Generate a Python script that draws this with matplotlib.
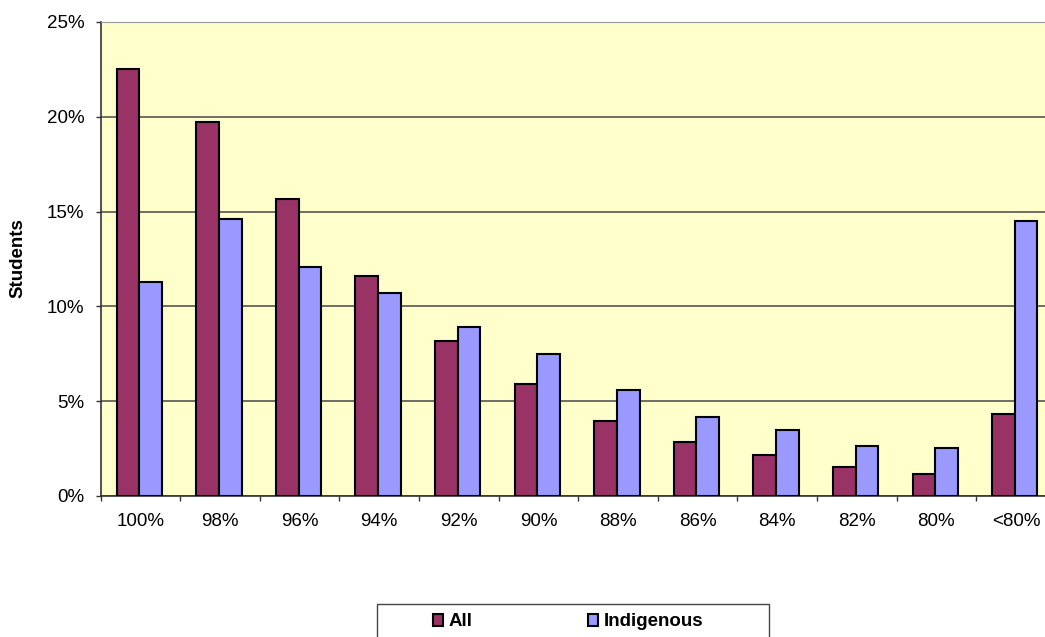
import numpy as np
import matplotlib
matplotlib.use("Agg")
import matplotlib.pyplot as plt
from matplotlib.patches import Patch, Rectangle
from matplotlib.ticker import FuncFormatter, FixedLocator

plt.rcParams["font.family"] = ["Liberation Sans", "DejaVu Sans"]

categories = ["100%", "98%", "96%", "94%", "92%", "90%", "88%", "86%", "84%", "82%", "80%", "<80%"]
all_students = [22.5, 19.75, 15.66, 11.58, 8.16, 5.89, 3.97, 2.83, 2.18, 1.51, 1.14, 4.34]
indigenous = [11.3, 14.6, 12.06, 10.72, 8.93, 7.49, 5.59, 4.17, 3.48, 2.65, 2.55, 14.52]

W, H = 1045, 637
fig = plt.figure(figsize=(W / 100, H / 100), dpi=100)
# axes run a little past the right edge of the figure
ax = fig.add_axes([100.7 / W, 1 - 496 / H, 955 / W, 474 / H])
ax.set_facecolor("#FFFFCC")

x = np.arange(len(categories))
w = 0.285
off = -0.5 + 16 / 79.6
ax.bar(x + off, all_students, w, align="edge", color="#993366",
       edgecolor="black", linewidth=1.5, zorder=3)
ax.bar(x + off + w, indigenous, w, align="edge", color="#9999FF",
       edgecolor="black", linewidth=1.5, zorder=3)

ax.set_xlim(-0.5, len(categories) - 0.5)
ax.set_ylim(0, 25)
ax.set_yticks(np.arange(0, 26, 5))
ax.yaxis.set_major_formatter(FuncFormatter(lambda v, p: f"{v:.0f}%"))
ax.grid(axis="y", color="#555555", linewidth=1.2, zorder=1)

# tick marks between categories, labels under each category
ax.xaxis.set_major_locator(FixedLocator(np.arange(len(categories) + 1) - 0.5))
ax.xaxis.set_major_formatter(FuncFormatter(lambda v, p: ""))
ax.xaxis.set_minor_locator(FixedLocator(x))
ax.set_xticklabels(categories, minor=True)
ax.tick_params(axis="x", which="major", length=3.8, width=1, color="#333333")
ax.tick_params(axis="x", which="minor", length=0, pad=12, labelsize=13.5)
ax.tick_params(axis="y", length=3.8, width=1, color="#333333", labelsize=13.5, pad=8)

ax.spines["right"].set_visible(False)
ax.spines["top"].set_color("#999999")
ax.spines["left"].set_color("#333333")
ax.spines["bottom"].set_color("#333333")
ax.spines["left"].set_linewidth(1.2)
ax.spines["bottom"].set_linewidth(1.2)

fig.text(18 / W, 1 - 258 / H, "Students", rotation=90, ha="center", va="center",
         fontsize=13.5, fontweight="bold")

# legend box, cut off by the bottom of the figure
fig.patches.append(Rectangle((377 / W, 1 - 660 / H), 392 / W, 56 / H,
                             transform=fig.transFigure, facecolor="white",
                             edgecolor="#444444", linewidth=1.0))
entries = [("All", "#993366", 433), ("Indigenous", "#9999FF", 588)]
for label, color, left in entries:
    fig.legend(handles=[Patch(facecolor=color, edgecolor="black", linewidth=1.5, label=label)],
               loc="center left", bbox_to_anchor=(left / W, 1 - 622 / H),
               frameon=False, prop={"weight": "bold", "size": 13.5},
               handlelength=0.55, handleheight=0.55, handletextpad=0.3,
               borderpad=0, borderaxespad=0)

fig.savefig("out.png", dpi=100)
